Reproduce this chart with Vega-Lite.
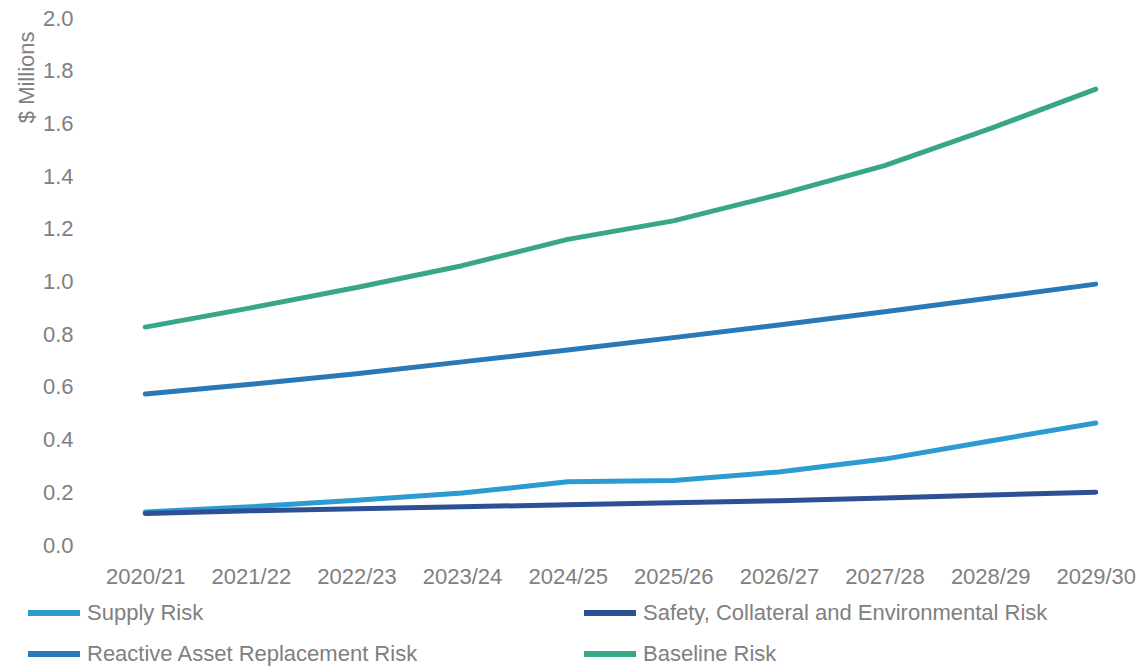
{
  "$schema": "https://vega.github.io/schema/vega-lite/v6.json",
  "width": 1035,
  "height": 527,
  "autosize": {"type": "none"},
  "padding": {"left": 103, "top": 18, "right": 6, "bottom": 123},
  "background": "white",
  "config": {
    "view": {"stroke": null},
    "font": "Liberation Sans"
  },
  "data": {
    "values": [
      {"year": "2020/21", "series": "Supply Risk", "value": 0.125},
      {"year": "2021/22", "series": "Supply Risk", "value": 0.145},
      {"year": "2022/23", "series": "Supply Risk", "value": 0.17},
      {"year": "2023/24", "series": "Supply Risk", "value": 0.197},
      {"year": "2024/25", "series": "Supply Risk", "value": 0.24},
      {"year": "2025/26", "series": "Supply Risk", "value": 0.245},
      {"year": "2026/27", "series": "Supply Risk", "value": 0.277},
      {"year": "2027/28", "series": "Supply Risk", "value": 0.326},
      {"year": "2028/29", "series": "Supply Risk", "value": 0.395},
      {"year": "2029/30", "series": "Supply Risk", "value": 0.463},
      {"year": "2020/21", "series": "Safety, Collateral and Environmental Risk", "value": 0.12},
      {"year": "2021/22", "series": "Safety, Collateral and Environmental Risk", "value": 0.13},
      {"year": "2022/23", "series": "Safety, Collateral and Environmental Risk", "value": 0.138},
      {"year": "2023/24", "series": "Safety, Collateral and Environmental Risk", "value": 0.145},
      {"year": "2024/25", "series": "Safety, Collateral and Environmental Risk", "value": 0.153},
      {"year": "2025/26", "series": "Safety, Collateral and Environmental Risk", "value": 0.16},
      {"year": "2026/27", "series": "Safety, Collateral and Environmental Risk", "value": 0.168},
      {"year": "2027/28", "series": "Safety, Collateral and Environmental Risk", "value": 0.178},
      {"year": "2028/29", "series": "Safety, Collateral and Environmental Risk", "value": 0.19},
      {"year": "2029/30", "series": "Safety, Collateral and Environmental Risk", "value": 0.2},
      {"year": "2020/21", "series": "Reactive Asset Replacement Risk", "value": 0.573},
      {"year": "2021/22", "series": "Reactive Asset Replacement Risk", "value": 0.61},
      {"year": "2022/23", "series": "Reactive Asset Replacement Risk", "value": 0.65},
      {"year": "2023/24", "series": "Reactive Asset Replacement Risk", "value": 0.695},
      {"year": "2024/25", "series": "Reactive Asset Replacement Risk", "value": 0.74},
      {"year": "2025/26", "series": "Reactive Asset Replacement Risk", "value": 0.787},
      {"year": "2026/27", "series": "Reactive Asset Replacement Risk", "value": 0.835},
      {"year": "2027/28", "series": "Reactive Asset Replacement Risk", "value": 0.885},
      {"year": "2028/29", "series": "Reactive Asset Replacement Risk", "value": 0.937},
      {"year": "2029/30", "series": "Reactive Asset Replacement Risk", "value": 0.99},
      {"year": "2020/21", "series": "Baseline Risk", "value": 0.827},
      {"year": "2021/22", "series": "Baseline Risk", "value": 0.9},
      {"year": "2022/23", "series": "Baseline Risk", "value": 0.977},
      {"year": "2023/24", "series": "Baseline Risk", "value": 1.06},
      {"year": "2024/25", "series": "Baseline Risk", "value": 1.16},
      {"year": "2025/26", "series": "Baseline Risk", "value": 1.23},
      {"year": "2026/27", "series": "Baseline Risk", "value": 1.33},
      {"year": "2027/28", "series": "Baseline Risk", "value": 1.44},
      {"year": "2028/29", "series": "Baseline Risk", "value": 1.58},
      {"year": "2029/30", "series": "Baseline Risk", "value": 1.73}
    ]
  },
  "mark": {"type": "line", "strokeWidth": 5, "strokeCap": "round", "strokeJoin": "round"},
  "encoding": {
    "x": {
      "field": "year",
      "type": "ordinal",
      "scale": {"type": "point", "padding": 0.4},
      "axis": {
        "title": null,
        "labelAngle": 0,
        "domain": false,
        "ticks": false,
        "grid": false,
        "labelFontSize": 22,
        "labelColor": "#808080",
        "labelPadding": 21
      }
    },
    "y": {
      "field": "value",
      "type": "quantitative",
      "scale": {"domain": [0, 2]},
      "axis": {
        "title": "$ Millions",
        "titleFontSize": 22,
        "titleFontWeight": "normal",
        "titleColor": "#808080",
        "titleAngle": -90,
        "titleX": -70,
        "titleY": 13,
        "titleAlign": "right",
        "titleBaseline": "alphabetic",
        "values": [0, 0.2, 0.4, 0.6, 0.8, 1.0, 1.2, 1.4, 1.6, 1.8, 2.0],
        "format": ".1f",
        "domain": false,
        "ticks": false,
        "grid": false,
        "labelFontSize": 22,
        "labelColor": "#808080",
        "labelPadding": 30
      }
    },
    "color": {
      "field": "series",
      "type": "nominal",
      "scale": {
        "domain": ["Supply Risk", "Safety, Collateral and Environmental Risk", "Reactive Asset Replacement Risk", "Baseline Risk"],
        "range": ["#2b9bd1", "#2d4f95", "#2a79b6", "#38a688"]
      },
      "legend": {
        "title": null,
        "orient": "none",
        "legendX": -78,
        "legendY": 566,
        "direction": "horizontal",
        "columns": 2,
        "columnPadding": 153,
        "rowPadding": -8,
        "symbolType": "stroke",
        "symbolSize": 2704,
        "symbolStrokeWidth": 6,
        "labelOffset": 4,
        "labelFontSize": 22,
        "labelColor": "#808080",
        "labelLimit": 700
      }
    }
  }
}
